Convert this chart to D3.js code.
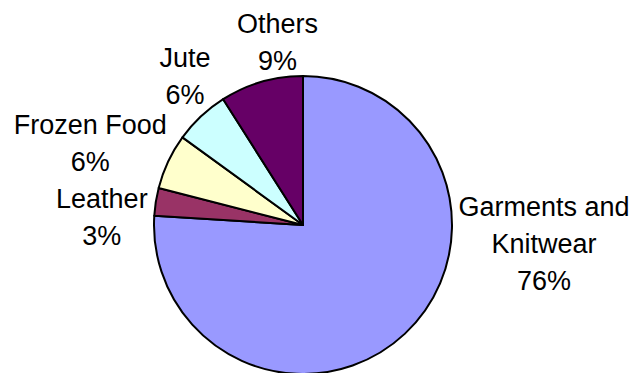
<!DOCTYPE html>
<html>
<head>
<meta charset="utf-8">
<script src="https://cdn.jsdelivr.net/npm/d3@7"></script>
<style>
  html, body { margin: 0; padding: 0; background: #ffffff; }
  svg { display: block; }
</style>
</head>
<body>
<svg id="chart" width="635" height="373"></svg>
<script>
// export shares, clockwise from 12 o'clock
var categories = ["Garments and Knitwear", "Leather", "Frozen Food", "Jute", "Others"];
var shares = [76, 3, 6, 6, 9];
// text lines of each data label
var labelLines = [["Garments and", "Knitwear"], ["Leather"], ["Frozen Food"], ["Jute"], ["Others"]];
var colors = ["#9999ff", "#993366", "#ffffcc", "#ccffff", "#660066"];

// layout
var cx = 303, cy = 225, radius = 149;
var fontSize = 27, lineGap = 37;
// shift of each label block from the point where its mid angle meets the rim
var labelNudge = [[139, -118], [-54, 6], [-78, -28], [-16, -49], [16, -49]];

var svg = d3.select("#chart");
var g = svg.append("g").attr("transform", "translate(" + cx + "," + cy + ")");

var pie = d3.pie().sort(null).value(function(d){ return d; });
var arcs = pie(shares);

var arc = d3.arc().innerRadius(0).outerRadius(radius);

g.selectAll("path.slice")
  .data(arcs)
  .enter().append("path")
  .attr("class", "slice")
  .attr("d", arc)
  .attr("fill", function(d, i){ return colors[i]; })
  .attr("stroke", "#000000")
  .attr("stroke-width", 2)
  .attr("stroke-linejoin", "round");

// data labels: category name(s) + percentage
var labels = g.selectAll("text.label")
  .data(arcs)
  .enter().append("text")
  .attr("class", "label")
  .attr("text-anchor", "middle")
  .attr("style", "font-family:'Liberation Sans',Arial,sans-serif;font-size:" + fontSize + "px;fill:#000000;")
  .attr("transform", function(d, i){
    var a = (d.startAngle + d.endAngle) / 2;
    var x = Math.sin(a) * radius + labelNudge[i][0];
    var y = -Math.cos(a) * radius + labelNudge[i][1];
    return "translate(" + x + "," + y + ")";
  });

labels.each(function(d, i){
  var t = d3.select(this);
  var lines = labelLines[i].concat([shares[i] + "%"]);
  lines.forEach(function(s, k){
    t.append("tspan")
      .attr("x", 0)
      .attr("y", k * lineGap)
      .text(s);
  });
});
</script>
</body>
</html>
